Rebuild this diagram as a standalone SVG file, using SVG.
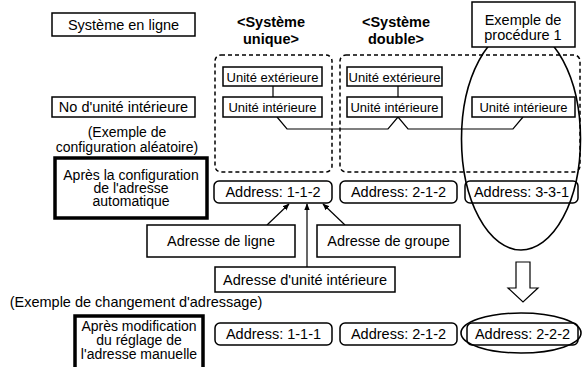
<svg xmlns="http://www.w3.org/2000/svg" width="582" height="367" viewBox="0 0 582 367">
<style>
text{font-family:"Liberation Sans",Arial,sans-serif;font-size:14.5px;fill:#000;text-anchor:middle}
.s{font-size:13px}
.m{font-size:14px}
.b{font-weight:bold}
.box{fill:#fff;stroke:#000;stroke-width:1.5}
.thick{fill:#fff;stroke:#000;stroke-width:3.5}
.dash{fill:none;stroke:#000;stroke-width:1.5;stroke-dasharray:4 3}
.ln{fill:none;stroke:#000;stroke-width:1.2}
.ell{fill:none;stroke:#000;stroke-width:1.6}
</style>
<defs>
<marker id="ah" viewBox="0 0 10 10" refX="9" refY="5" markerWidth="7" markerHeight="7" orient="auto" markerUnits="userSpaceOnUse">
<path d="M0,1 L10,5 L0,9 z" fill="#000"/>
</marker>
</defs>
<rect width="582" height="367" fill="#fff"/>

<g id="label-systeme-en-ligne"><rect class="box" x="52" y="13" width="143" height="23"/><text x="123.5" y="30">Système en ligne</text></g>
<g id="label-unique"><text class="b" x="271" y="27">&lt;Système</text><text class="b" x="271" y="44">unique&gt;</text></g>
<g id="label-double"><text class="b" x="396" y="27">&lt;Système</text><text class="b" x="396" y="44">double&gt;</text></g>

<g id="group-unique"><rect class="dash" x="215" y="55" width="117" height="117" rx="6"/></g>
<g id="group-double"><rect class="dash" x="340" y="55" width="240" height="117" rx="6"/></g>

<g id="connectors">
<line class="ln" x1="273" y1="86" x2="273" y2="97"/>
<line class="ln" x1="398" y1="86" x2="398" y2="97"/>
<path class="ln" d="M277,117 L287,129 L388,129 L398,117 L408,129 L513,129 L523,117"/>
<line class="ln" x1="267" y1="225" x2="289" y2="204" marker-end="url(#ah)"/>
<line class="ln" x1="307" y1="267" x2="307" y2="204" marker-end="url(#ah)"/>
<line class="ln" x1="345" y1="225" x2="323" y2="204" marker-end="url(#ah)"/>
<path class="ln" d="M516,262 L530,262 L530,288 L538,288 L523,302 L508,288 L516,288 Z" fill="#fff" stroke-width="1.3"/>
</g>

<g id="ext1"><rect class="box" x="223" y="67" width="99" height="19"/><text class="s" x="272.5" y="81.5">Unité extérieure</text></g>
<g id="int1"><rect class="box" x="223" y="97" width="99" height="20"/><text class="s" x="272.5" y="112">Unité intérieure</text></g>
<g id="ext2"><rect class="box" x="347" y="67" width="95" height="19"/><text class="s" x="394.5" y="81.5">Unité extérieure</text></g>
<g id="int2"><rect class="box" x="347" y="97" width="95" height="20"/><text class="s" x="394.5" y="112">Unité intérieure</text></g>
<g id="int3"><rect class="box" x="472" y="97" width="103" height="20"/><text class="s" x="523.5" y="112">Unité intérieure</text></g>

<g id="label-no-unite"><rect class="box" x="52" y="97" width="143" height="20"/><text x="123.5" y="112">No d'unité intérieure</text></g>
<g id="label-exemple-config"><text class="m" x="127" y="137">(Exemple de</text><text class="m" x="127" y="152">configuration aléatoire)</text></g>
<g id="label-apres-auto"><rect class="thick" x="55" y="158" width="152" height="60"/><text class="m" x="131" y="180">Après la configuration</text><text class="m" x="131" y="193">de l'adresse</text><text class="m" x="131" y="206">automatique</text></g>

<g id="addr1"><rect class="box" x="214" y="181" width="118" height="22" rx="5"/><text x="273" y="197">Address: 1-1-2</text></g>
<g id="addr2"><rect class="box" x="340" y="181" width="117" height="22" rx="5"/><text x="398.5" y="197">Address: 2-1-2</text></g>
<g id="addr3"><rect class="box" x="465" y="181" width="113" height="22" rx="5"/><text x="521.5" y="197">Address: 3-3-1</text></g>

<g id="label-ligne"><rect class="box" x="147" y="225" width="148" height="32"/><text x="221" y="246">Adresse de ligne</text></g>
<g id="label-groupe"><rect class="box" x="317" y="225" width="143" height="32"/><text x="388.5" y="246">Adresse de groupe</text></g>
<g id="label-unite"><rect class="box" x="215" y="267" width="180" height="25"/><text x="305" y="285">Adresse d'unité intérieure</text></g>

<g id="label-exemple-chg"><text x="136" y="307">(Exemple de changement d'adressage)</text></g>
<g id="label-apres-manuel"><rect class="thick" x="75" y="316" width="128" height="60"/><text class="m" x="139" y="331">Après modification</text><text class="m" x="139" y="345">du réglage de</text><text class="m" x="139" y="359">l'adresse manuelle</text></g>

<g id="addr4"><rect class="box" x="215" y="323" width="117" height="22" rx="5"/><text x="273.5" y="339">Address: 1-1-1</text></g>
<g id="addr5"><rect class="box" x="340" y="323" width="117" height="22" rx="5"/><text x="398.5" y="339">Address: 2-1-2</text></g>
<g id="addr6"><rect class="box" x="467" y="323" width="111" height="22" rx="5"/><text x="522.5" y="339">Address: 2-2-2</text></g>

<g id="ellipse-procedure"><ellipse class="ell" cx="521" cy="139" rx="59.5" ry="111"/></g>
<g id="ellipse-bottom"><ellipse class="ell" cx="521" cy="333" rx="60" ry="20"/></g>

<g id="label-procedure"><rect class="box" x="472" y="2" width="103" height="45"/><text x="523" y="25">Exemple de</text><text x="523" y="40">procédure 1</text></g>
</svg>
